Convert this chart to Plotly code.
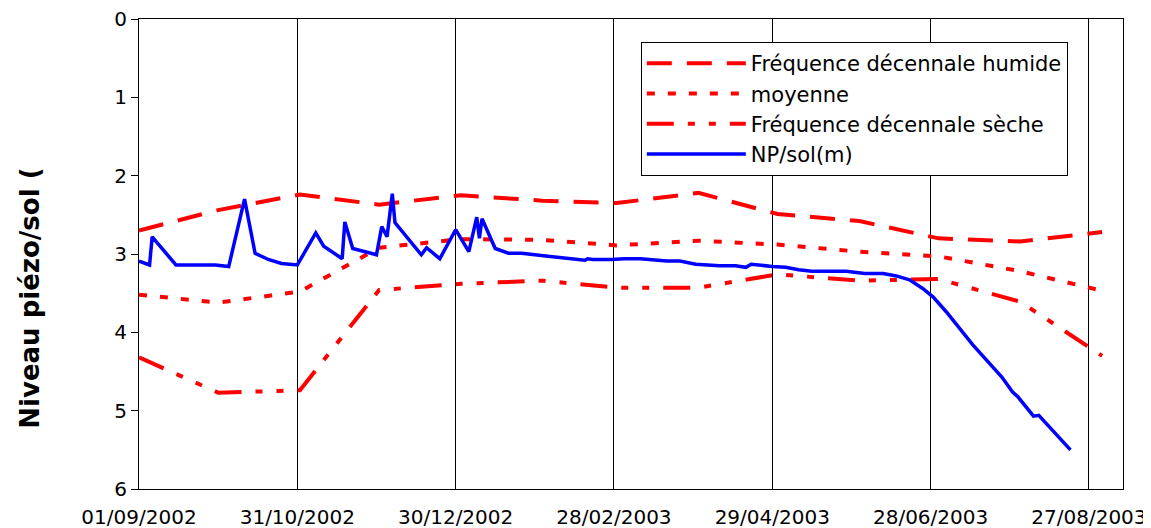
import plotly.graph_objects as go

# Monthly reference curves (1st of each month)
ref_dates = ["2002-09-01", "2002-10-01", "2002-11-01", "2002-12-01", "2003-01-01",
             "2003-02-01", "2003-03-01", "2003-04-01", "2003-05-01", "2003-06-01",
             "2003-07-01", "2003-08-01", "2003-09-01"]
humide = [2.70, 2.44, 2.24, 2.37, 2.25, 2.32, 2.35, 2.22, 2.49, 2.58, 2.80, 2.84, 2.72]
moyenne = [3.52, 3.62, 3.48, 2.92, 2.81, 2.82, 2.89, 2.83, 2.88, 2.97, 3.03, 3.22, 3.47]
seche = [4.32, 4.77, 4.74, 3.46, 3.38, 3.34, 3.43, 3.43, 3.26, 3.34, 3.32, 3.61, 4.30]

# Observed piezometric level
np_dates = ["2002-09-01", "2002-09-05", "2002-09-06", "2002-09-15", "2002-09-30", "2002-10-05",
            "2002-10-11", "2002-10-15", "2002-10-20", "2002-10-25", "2002-10-31", "2002-11-07",
            "2002-11-10", "2002-11-17", "2002-11-18", "2002-11-21", "2002-11-30", "2002-12-02",
            "2002-12-04", "2002-12-06", "2002-12-07", "2002-12-17", "2002-12-19", "2002-12-24",
            "2002-12-30", "2003-01-04", "2003-01-07", "2003-01-08", "2003-01-09", "2003-01-14",
            "2003-01-19", "2003-01-24", "2003-02-03", "2003-02-12", "2003-02-17", "2003-02-18",
            "2003-02-20", "2003-02-27", "2003-03-04", "2003-03-10", "2003-03-20", "2003-03-25",
            "2003-03-31", "2003-04-09", "2003-04-15", "2003-04-19", "2003-04-21", "2003-04-29",
            "2003-05-04", "2003-05-09", "2003-05-14", "2003-05-27", "2003-06-03", "2003-06-10",
            "2003-06-15", "2003-06-20", "2003-06-25", "2003-06-29", "2003-07-04", "2003-07-14",
            "2003-07-25", "2003-07-29", "2003-07-31", "2003-08-06", "2003-08-08", "2003-08-20"]
np_sol = [3.09, 3.14, 2.78, 3.14, 3.14, 3.16,
          2.30, 2.99, 3.07, 3.12, 3.14, 2.73,
          2.90, 3.06, 2.59, 2.93, 3.01, 2.65,
          2.78, 2.23, 2.60, 3.01, 2.92, 3.06,
          2.69, 2.97, 2.53, 2.80, 2.55, 2.93,
          2.99, 2.99, 3.03, 3.06, 3.08, 3.06,
          3.07, 3.07, 3.06, 3.06, 3.09, 3.09,
          3.13, 3.15, 3.15, 3.17, 3.13, 3.16,
          3.17, 3.20, 3.22, 3.22, 3.25, 3.25,
          3.28, 3.33, 3.44, 3.55, 3.74, 4.16,
          4.57, 4.76, 4.82, 5.07, 5.06, 5.50]

tick_dates = ["2002-09-01", "2002-10-31", "2002-12-30", "2003-02-28", "2003-04-29",
              "2003-06-28", "2003-08-27"]
tick_text = ["01/09/2002", "31/10/2002", "30/12/2002", "28/02/2003", "29/04/2003",
             "28/06/2003", "27/08/2003"]
y_ticks = [0, 1, 2, 3, 4, 5, 6]
y_title = "Niveau piézo/sol ("

FONT = "DejaVu Sans"
RED = "#FF0000"
BLUE = "#0000FF"

fig = go.Figure()
fig.add_trace(go.Scatter(x=ref_dates, y=humide, mode="lines", name="Fréquence décennale humide",
                         line=dict(color=RED, width=4, dash="25px,15px")))
fig.add_trace(go.Scatter(x=ref_dates, y=moyenne, mode="lines", name="moyenne",
                         line=dict(color=RED, width=4, dash="8px,13px")))
fig.add_trace(go.Scatter(x=ref_dates, y=seche, mode="lines", name="Fréquence décennale sèche",
                         line=dict(color=RED, width=4, dash="27px,14px,7px,14px,7px,14px")))
fig.add_trace(go.Scatter(x=np_dates, y=np_sol, mode="lines", name="NP/sol(m)",
                         line=dict(color=BLUE, width=3.5)))

fig.update_layout(
    width=1143, height=520,
    margin=dict(l=131, r=28, t=11, b=39, autoexpand=False),
    paper_bgcolor="white", plot_bgcolor="white",
    font=dict(family=FONT, size=18, color="black"),
    showlegend=True,
    legend=dict(
        x=0.51, y=0.951, xanchor="left", yanchor="top",
        bordercolor="black", borderwidth=1, bgcolor="white",
        font=dict(family=FONT, size=21, color="black"),
        itemwidth=99, tracegroupgap=0,
    ),
    xaxis=dict(
        type="date", automargin=False,
        range=["2002-09-01", "2003-09-08 22:00"],
        tickvals=tick_dates, ticktext=tick_text,
        showgrid=True, gridcolor="black", gridwidth=1,
        showline=True, linecolor="black", linewidth=1, mirror=True,
        ticks="", zeroline=False, ticklabelstandoff=10,
        ticklabeloverflow="allow",
        tickfont=dict(family=FONT, size=20, color="black"),
    ),
    yaxis=dict(
        range=[6, 0], automargin=False,
        tickvals=y_ticks,
        showgrid=False, zeroline=False,
        showline=True, linecolor="black", linewidth=1, mirror=True,
        ticks="outside", ticklen=7, tickcolor="black",
        ticklabeloverflow="allow",
        tickfont=dict(family=FONT, size=20, color="black"),
    ),
    annotations=[dict(
        text="<b>" + y_title + "</b>", textangle=-90,
        xref="paper", yref="paper", x=-0.1108, y=0.407,
        xanchor="center", yanchor="middle", showarrow=False,
        font=dict(family=FONT, size=26, color="black"),
    )],
)

fig.write_html("out.html")
